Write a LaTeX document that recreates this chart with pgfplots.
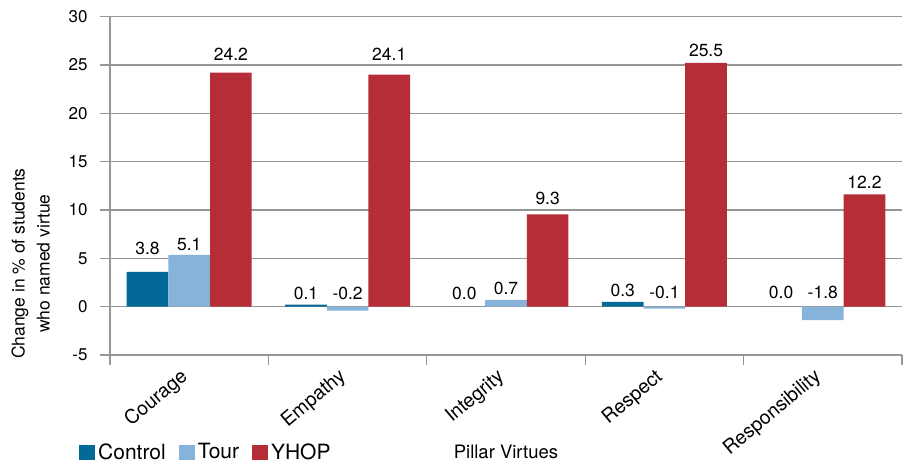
\documentclass[border=0pt]{standalone}
\usepackage{pgfplots}
\usepackage{pgfplotstable}
\pgfplotsset{compat=1.18}
\usepackage{fontspec}
\setmainfont{TeX Gyre Heros}
\definecolor{ctrl}{RGB}{4,105,150}
\definecolor{tour}{RGB}{135,178,218}
\definecolor{yhop}{RGB}{181,46,55}
\definecolor{axgray}{RGB}{150,150,150}
\newcommand\chartfont{\fontsize{17bp}{20bp}\selectfont}

% data labels: x (category + bar offset), baseline height, printed value
\pgfplotstableread{
x y lab
-0.263 5.4 3.8
0 5.8 5.1
0.263 25.4 24.2
0.737 0.7 0.1
1 0.7 -0.2
1.263 25.4 24.1
1.737 0.7 0.0
2 1.3 0.7
2.263 10.6 9.3
2.737 1.0 0.3
3 0.8 -0.1
3.263 25.9 25.5
3.737 0.8 0.0
4 0.8 -1.8
4.263 12.2 12.2
}\labels

\begin{document}
\begin{tikzpicture}[font=\chartfont]
\begin{axis}[
    scale only axis,
    width=792bp, height=338.5bp,
    xmin=-0.5, xmax=4.5,
    ymin=-5, ymax=30,
    ytick={-5,0,...,30},
    xtick={0,1,2,3,4},
    xticklabels={Courage,Empathy,Integrity,Respect,Responsibility},
    minor xtick={-0.5,0.5,...,4.5},
    major x tick style={draw=none},
    minor x tick style={axgray, line width=1.3bp},
    minor tick length=10bp,
    major tick length=10bp,
    tick align=outside,
    tick pos=left,
    axis lines*=left,
    axis line style={axgray, line width=1.3bp},
    ytick style={axgray, line width=1.3bp},
    ymajorgrids=true,
    grid style={axgray, line width=1.3bp},
    /pgf/number format/assume math mode=true,
    yticklabel style={xshift=-9bp},
    xticklabel style={rotate=40, anchor=north east, xshift=-6bp, yshift=8bp,
        font=\fontsize{19.5bp}{22bp}\selectfont},
    ylabel={Change in \% of students\\who named virtue},
    ylabel style={align=center, at={(axis description cs:-0.1,0.27)}, anchor=center,
        font=\fontsize{17.5bp}{25bp}\selectfont},
    xlabel={Pillar Virtues},
    xlabel style={at={(axis description cs:0.5,-0.2866)}, anchor=center,
        font=\fontsize{18.5bp}{21bp}\selectfont},
    legend columns=3,
    legend style={draw=none, at={(axis description cs:-0.0429,-0.2866)}, anchor=west,
        font=\fontsize{21bp}{24bp}\selectfont,
        /tikz/every even column/.append style={column sep=10bp},
        nodes={inner sep=3bp}},
    legend image code/.code={\fill[#1,draw=none] (0bp,-7.5bp) rectangle (16bp,7.5bp);},
]
\addplot[ybar, bar width=0.263, bar shift=-0.263, fill=ctrl, draw=none] coordinates {
    (0,3.6) (1,0.2) (2,0.0) (3,0.5) (4,0.0)
};
\addlegendentry{Control}
\addplot[ybar, bar width=0.263, bar shift=0, fill=tour, draw=none] coordinates {
    (0,5.35) (1,-0.4) (2,0.7) (3,-0.2) (4,-1.4)
};
\addlegendentry{Tour}
\addplot[ybar, bar width=0.263, bar shift=0.263, fill=yhop, draw=none] coordinates {
    (0,24.2) (1,24.0) (2,9.55) (3,25.2) (4,11.6)
};
\addlegendentry{YHOP}
\addplot[only marks, mark=none, forget plot,
    point meta=explicit symbolic,
    nodes near coords,
    nodes near coords style={anchor=base, font=\fontsize{17.5bp}{20bp}\selectfont, inner sep=0bp}]
    table[x=x, y=y, meta=lab] {\labels};
\end{axis}
\pgfresetboundingbox
\useasboundingbox (-110bp,-107bp) rectangle (798bp,355bp);
\end{tikzpicture}
\end{document}
